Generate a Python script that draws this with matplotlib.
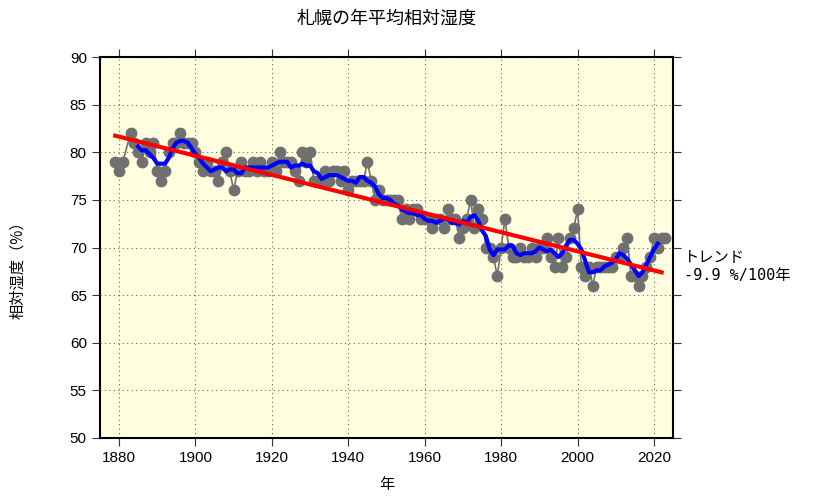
import numpy as np
import pandas as pd
import matplotlib
matplotlib.use("Agg")
import matplotlib.pyplot as plt

# 札幌の年平均相対湿度 (%), 1882 は欠測
years = list(range(1879, 2024))
humidity = [
    79, 78, 79, np.nan, 82, 81, 80, 79, 81, 80, 81,          # 1879-1889
    78, 77, 78, 80, 81, 81, 82, 81, 81, 81,                  # 1890-1899
    80, 79, 78, 79, 78, 78, 77, 79, 80, 78,                  # 1900-1909
    76, 78, 79, 78, 78, 79, 78, 79, 78, 78,                  # 1910-1919
    79, 78, 80, 79, 79, 79, 78, 77, 80, 79,                  # 1920-1929
    80, 77, 77, 77, 78, 77, 78, 78, 77, 78,                  # 1930-1939
    76, 77, 77, 77, 77, 79, 77, 75, 76, 75,                  # 1940-1949
    75, 75, 75, 75, 73, 74, 73, 74, 74, 73,                  # 1950-1959
    73, 73, 72, 73, 73, 72, 74, 73, 73, 71,                  # 1960-1969
    72, 73, 75, 72, 74, 73, 70, 70, 69, 67,                  # 1970-1979
    70, 73, 70, 69, 69, 70, 69, 69, 70, 69,                  # 1980-1989
    70, 70, 71, 69, 68, 71, 68, 69, 71, 72,                  # 1990-1999
    74, 68, 67, 68, 66, 68, 68, 68, 68, 68,                  # 2000-2009
    69, 69, 70, 71, 67, 67, 66, 67, 68, 69,                  # 2010-2019
    71, 70, 71, 71,                                          # 2020-2023
]

trend_label = "トレンド\n-9.9 %/100年"
trend_end = 2022
yticks = [50, 55, 60, 65, 70, 75, 80, 85, 90]
xticks = [1880, 1900, 1920, 1940, 1960, 1980, 2000, 2020]

s = pd.Series(humidity, index=years, dtype=float)
ma5 = s.rolling(5, center=True, min_periods=5).mean()
valid = s.dropna()

# 線形トレンド
fit = valid[valid.index <= trend_end]
coef = np.polyfit(fit.index.values, fit.values, 1)
tx = np.array([fit.index[0], fit.index[-1]])
ty = np.polyval(coef, tx)
print("trend %/100yr:", coef[0] * 100)

jp = ["Noto Sans CJK JP", "DejaVu Sans"]

fig = plt.figure(figsize=(8.33, 4.98), dpi=100)
ax = fig.add_axes([0.120, 0.1205, 0.688, 0.765])
ax.set_facecolor("#ffffe0")

ax.plot(valid.index, valid.values, color="#707070", lw=1.2,
        marker="o", ms=7.5, mec="#707070", mfc="#707070", zorder=3)
ax.plot(ma5.index, ma5.values, color="#0000ff", lw=3, zorder=4)
ax.plot(tx, ty, color="#ff0000", lw=3, zorder=5)

ax.set_xlim(1875, 2025)
ax.set_ylim(50, 90)
ax.set_xticks(xticks)
ax.set_yticks(yticks)
ax.grid(True, linestyle=(0, (1, 3)), color="#666666", lw=0.8)
ax.tick_params(direction="out", top=True, right=True, length=6,
               labelsize=11, color="#333333")
for lab in ax.get_xticklabels() + ax.get_yticklabels():
    lab.set_family(["Liberation Sans", "DejaVu Sans"])
for sp in ax.spines.values():
    sp.set_linewidth(1.5)

ax.set_title("札幌の年平均相対湿度", family=jp, fontsize=13, pad=24)
ax.set_xlabel("年", family=jp, fontsize=11, labelpad=8)
ax.set_ylabel("相対湿度（%）", family=jp, fontsize=11)
ax.yaxis.set_label_coords(-0.128, 0.45)

fig.text(0.821, 0.465, trend_label, family=["DejaVu Sans Mono", "Noto Sans CJK JP"],
         fontsize=11, va="center", ha="left", linespacing=1.3)

fig.savefig("out.png", dpi=100)
